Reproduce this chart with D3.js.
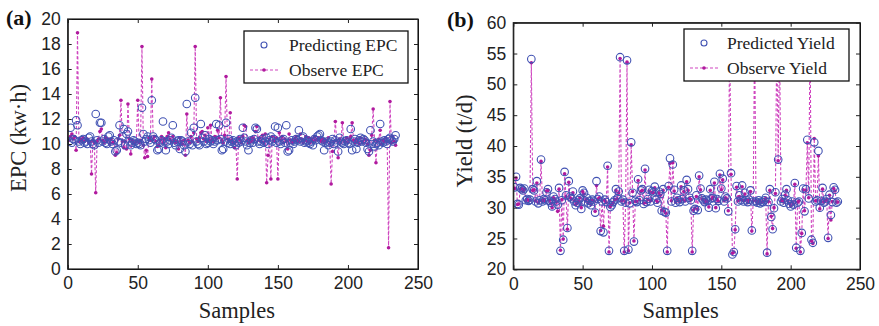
<!DOCTYPE html>
<html>
<head>
<meta charset="utf-8">
<script src="https://cdnjs.cloudflare.com/ajax/libs/d3/7.8.5/d3.min.js"></script>
<style>
  body { margin: 0; background: #fff; }
  svg { display: block; }
</style>
</head>
<body>
<div id="vis"></div>
<script>
// samples 1..234
var epcPredicted = [
  10.2, 11.3, 10.1, 10.4, 10.3, 11.9, 11.5, 10.2, 10.0, 10.3,
  10.4, 10.1, 10.2, 10.0, 10.5, 10.6, 10.2, 10.0, 9.9, 12.4,
  10.3, 10.1, 11.7, 11.7, 10.2, 10.4, 10.1, 10.0, 10.6, 10.7,
  10.2, 10.0, 10.3, 9.4, 9.5, 10.2, 11.5, 10.1, 10.6, 11.2,
  9.9, 10.8, 11.0, 10.2, 9.9, 10.1, 10.3, 10.2, 10.0, 10.1,
  10.0, 9.9, 12.9, 10.8, 10.2, 10.4, 10.6, 10.3, 10.1, 13.5,
  10.6, 10.4, 10.3, 9.5, 9.6, 10.1, 10.3, 11.8, 10.2, 9.5,
  10.2, 10.0, 10.3, 10.5, 11.5, 10.1, 9.9, 10.2, 10.3, 9.6,
  10.3, 10.2, 9.9, 9.4, 13.2, 10.2, 10.0, 10.9, 9.9, 11.3,
  13.7, 10.2, 10.0, 9.9, 11.6, 10.5, 10.2, 10.7, 10.0, 10.1,
  10.4, 10.2, 10.3, 10.0, 10.2, 11.6, 10.3, 11.5, 10.4, 9.5,
  9.6, 10.2, 11.7, 10.1, 10.4, 10.0, 10.2, 10.3, 10.1, 9.9,
  10.2, 10.1, 10.4, 10.2, 11.3, 10.5, 10.2, 9.9, 9.5, 10.1,
  10.3, 10.1, 10.4, 11.3, 11.2, 10.2, 10.0, 10.2, 10.4, 10.1,
  10.2, 10.5, 10.0, 10.3, 10.6, 10.2, 10.4, 11.4, 10.1, 11.3,
  10.2, 10.0, 10.3, 10.4, 10.1, 11.5, 9.4, 9.5, 10.1, 10.3,
  10.0, 10.2, 10.4, 10.3, 11.1, 10.2, 10.5, 10.6, 10.1, 10.2,
  10.3, 10.1, 10.0, 10.2, 9.9, 10.4, 10.3, 10.6, 10.7, 10.8,
  10.3, 10.2, 9.5, 10.1, 10.2, 9.9, 10.1, 10.2, 10.4, 10.0,
  10.3, 10.1, 9.4, 10.5, 10.2, 10.1, 10.0, 10.2, 10.3, 10.1,
  10.0, 11.2, 9.5, 10.2, 10.4, 9.6, 10.1, 10.3, 10.5, 10.2,
  10.4, 10.3, 10.1, 9.6, 9.4, 11.1, 10.0, 10.2, 9.8, 10.0,
  10.1, 9.9, 11.6, 10.2, 10.1, 10.3, 10.2, 10.0, 10.4, 10.5,
  10.3, 10.2, 10.4, 10.7
];
var epcObserved = [
  10.3, 10.6, 10.8, 10.4, 10.6, 9.5, 18.9, 10.2, 10.4, 10.3,
  10.5, 10.2, 10.3, 10.4, 10.1, 10.2, 7.6, 10.3, 10.1, 6.1,
  10.2, 10.4, 11.0, 11.2, 10.3, 10.1, 10.5, 10.2, 10.4, 10.0,
  10.4, 10.1, 10.2, 9.1, 9.3, 10.4, 10.7, 13.5, 10.2, 9.7,
  10.2, 9.6, 13.2, 10.4, 9.2, 10.3, 10.1, 10.0, 10.2, 13.5,
  10.1, 10.3, 17.8, 9.9, 8.9, 9.5, 9.0, 10.5, 10.3, 15.2,
  10.4, 10.6, 10.2, 9.8, 9.9, 10.3, 10.6, 10.1, 10.4, 9.7,
  10.6, 10.9, 10.4, 10.2, 10.6, 10.3, 10.1, 10.2, 9.6, 10.5,
  10.2, 10.0, 10.3, 9.1, 12.4, 10.3, 10.1, 10.6, 10.2, 10.9,
  17.8, 10.4, 10.2, 10.5, 10.9, 11.0, 10.4, 10.7, 10.2, 11.3,
  10.3, 11.5, 10.4, 10.2, 10.6, 10.4, 11.1, 10.5, 13.7, 10.3,
  10.1, 10.7, 15.4, 10.4, 10.2, 12.5, 10.3, 10.1, 9.7, 10.2,
  7.2, 10.5, 10.3, 10.1, 10.6, 11.5, 11.4, 10.3, 10.1, 10.4,
  10.2, 10.5, 10.3, 11.0, 11.4, 10.3, 10.5, 10.2, 10.7, 10.1,
  10.8, 6.9, 9.1, 10.4, 7.2, 10.6, 10.3, 10.2, 10.5, 7.2,
  10.9, 10.3, 10.6, 10.1, 10.4, 10.2, 9.6, 10.8, 10.3, 10.1,
  10.2, 10.4, 10.6, 10.3, 10.2, 10.8, 10.4, 10.1, 10.3, 10.6,
  10.2, 10.5, 10.1, 10.4, 10.2, 10.6, 10.3, 10.4, 10.5, 10.3,
  10.2, 10.4, 10.1, 10.3, 10.2, 10.5, 10.0, 6.8, 9.4, 10.2,
  11.8, 10.3, 8.9, 10.4, 10.1, 11.7, 10.3, 10.2, 10.5, 10.1,
  10.4, 10.6, 11.7, 10.3, 10.1, 10.4, 10.2, 10.0, 10.5, 10.2,
  10.1, 10.4, 10.3, 10.0, 9.1, 9.5, 10.7, 12.8, 10.3, 8.5,
  10.2, 10.4, 11.1, 10.0, 10.3, 10.2, 10.5, 10.2, 1.7, 13.4,
  10.1, 10.6, 10.2, 9.9
];
var yieldPredicted = [
  33.3, 35.0, 30.6, 30.5, 33.2, 33.0, 32.8, 33.1, 31.2, 31.4,
  31.1, 31.3, 54.1, 33.0, 32.8, 31.0, 34.3, 30.7, 31.2, 37.8,
  31.0, 31.4, 31.2, 32.5, 33.0, 31.1, 30.8, 30.2, 31.8, 31.4,
  31.0, 30.5, 33.2, 23.0, 31.2, 24.8, 35.8, 32.0, 26.7, 34.3,
  31.8, 31.5, 32.6, 31.0, 30.4, 30.8, 31.2, 31.5, 29.8, 32.8,
  32.4, 31.0, 31.6, 30.7, 31.1, 30.4, 31.3, 31.0, 29.2, 34.3,
  31.4, 31.8, 26.2, 31.0, 26.0, 31.3, 30.9, 36.8, 23.0, 30.1,
  30.4, 30.9, 31.2, 33.0, 31.5, 32.6, 54.4, 31.0, 31.3, 23.0,
  30.8, 53.9, 23.2, 30.7, 40.6, 32.4, 24.5, 31.1, 30.9, 34.6,
  31.2, 32.8, 33.0, 30.6, 36.3, 30.9, 31.4, 32.9, 31.0, 32.7,
  32.5, 33.4, 31.3, 30.8, 32.6, 32.2, 29.5, 33.0, 29.3, 29.2,
  23.0, 33.5, 38.0, 31.0, 37.0, 32.9, 30.8, 31.6, 31.2, 30.9,
  33.6, 31.4, 32.8, 31.0, 34.5, 33.0, 31.6, 31.2, 23.0, 29.5,
  29.8, 32.0, 29.6, 35.2, 33.1, 31.5, 31.2, 30.9, 31.3, 31.1,
  30.0, 33.0, 31.5, 31.6, 34.2, 29.9, 31.4, 31.1, 35.5, 33.1,
  34.7, 31.0, 31.8, 31.5, 29.4, 56.5, 35.6, 22.4, 22.8, 26.5,
  33.5, 31.0, 32.0, 31.2, 33.6, 31.0, 32.4, 31.2, 30.9, 31.3,
  32.8, 26.3, 31.0, 56.0, 31.0, 30.8, 31.2, 30.7, 31.0, 30.9,
  31.2, 31.6, 22.7, 30.9, 33.0, 28.5, 26.5, 29.9, 32.5, 57.0,
  37.8, 56.5, 31.0, 31.4, 30.8, 32.1, 33.0, 31.2, 30.6, 30.2,
  31.0, 30.5, 34.0, 23.5, 30.8, 31.0, 23.0, 25.9, 33.1, 29.4,
  33.0, 41.0, 31.5, 56.0, 24.8, 24.3, 40.6, 31.0, 31.2, 39.2,
  30.0, 31.1, 33.2, 30.8, 31.0, 31.4, 25.1, 32.1, 28.8, 30.9,
  33.3, 32.9, 30.8, 31.0
];
var yieldObserved = [
  33.1, 34.8, 30.5, 30.6, 33.0, 33.1, 32.6, 33.0, 31.1, 31.3,
  31.2, 31.2, 53.5, 32.8, 32.9, 31.1, 34.0, 30.8, 31.1, 37.5,
  31.1, 31.3, 31.0, 32.7, 32.8, 31.2, 30.7, 30.0, 31.6, 31.3,
  30.9, 29.4, 33.0, 23.1, 31.3, 24.9, 35.5, 31.8, 26.5, 34.1,
  31.6, 31.4, 32.4, 31.1, 30.5, 30.7, 31.0, 31.6, 30.0, 32.6,
  32.2, 31.1, 31.4, 30.8, 31.0, 30.5, 31.2, 31.1, 29.4, 33.6,
  31.3, 31.6, 26.3, 31.1, 27.0, 31.2, 30.8, 36.6, 22.8, 30.2,
  30.5, 30.8, 31.3, 32.8, 31.4, 32.4, 54.2, 31.1, 31.2, 22.8,
  30.9, 53.6, 23.0, 30.8, 40.2, 32.6, 24.6, 31.0, 31.0, 34.4,
  31.3, 32.6, 32.8, 30.7, 36.1, 30.8, 31.3, 32.7, 31.1, 32.5,
  32.4, 33.2, 31.2, 30.9, 32.4, 32.0, 29.6, 32.8, 29.4, 29.1,
  22.8, 33.3, 37.2, 31.1, 37.3, 32.7, 30.9, 31.5, 31.1, 31.0,
  33.4, 31.3, 32.6, 31.1, 34.2, 32.8, 31.5, 31.3, 22.8, 29.6,
  29.9, 31.8, 29.7, 35.0, 32.9, 31.4, 31.3, 30.8, 31.2, 31.0,
  30.1, 32.8, 31.4, 31.7, 34.0, 30.0, 31.3, 31.0, 35.3, 32.9,
  34.5, 31.1, 31.6, 31.4, 29.5, 58.0, 35.4, 22.6, 22.8, 26.4,
  33.3, 31.1, 31.8, 31.3, 33.4, 31.1, 32.2, 31.3, 30.8, 31.2,
  32.6, 26.2, 31.1, 58.0, 31.1, 30.7, 31.1, 30.8, 30.9, 31.0,
  31.1, 31.5, 22.5, 31.0, 32.8, 28.6, 26.6, 30.0, 32.3, 58.0,
  37.6, 58.0, 31.1, 31.3, 30.9, 32.0, 32.8, 31.1, 30.7, 30.3,
  30.9, 30.6, 33.8, 23.4, 30.9, 31.1, 22.8, 25.8, 32.9, 29.5,
  32.8, 40.5, 31.6, 58.0, 24.6, 24.2, 41.2, 31.1, 31.1, 38.4,
  29.8, 31.0, 33.0, 30.9, 31.1, 31.3, 25.0, 32.0, 28.0, 31.0,
  33.1, 32.7, 30.9, 30.9
];

var xTicks = [0, 50, 100, 150, 200, 250];
var epcTicks = [0, 2, 4, 6, 8, 10, 12, 14, 16, 18, 20];
var yieldTicks = [20, 25, 30, 35, 40, 45, 50, 55, 60];

var width = 879, height = 326;
var blue = '#4152b3';
var magenta = '#b01a9e';
var lineCol = '#cf46bf';
var serif = '"Liberation Serif", "Times New Roman", serif';
var sans = '"Liberation Sans", Arial, Helvetica, sans-serif';

var svg = d3.select('#vis').append('svg')
    .attr('width', width)
    .attr('height', height);

function drawPanel(cfg) {
  var x = d3.scaleLinear().domain([0, 250]).range([cfg.left, cfg.right]);
  var y = d3.scaleLinear().domain(cfg.yDomain).range([cfg.bottom, cfg.top]);
  var g = svg.append('g');

  var clipId = 'clip-' + cfg.id;
  g.append('clipPath').attr('id', clipId)
    .append('rect')
      .attr('x', cfg.left).attr('y', cfg.top)
      .attr('width', cfg.right - cfg.left)
      .attr('height', cfg.bottom - cfg.top);

  var obs = cfg.observed.map(function (v, i) { return { i: i + 1, v: v }; });
  var pred = cfg.predicted.map(function (v, i) { return { i: i + 1, v: v }; });

  var plot = g.append('g').attr('clip-path', 'url(#' + clipId + ')');

  var line = d3.line()
      .x(function (d) { return x(d.i); })
      .y(function (d) { return y(d.v); });

  plot.append('path')
      .datum(obs)
      .attr('d', line)
      .attr('fill', 'none')
      .attr('stroke', lineCol)
      .attr('stroke-width', 1.1)
      .attr('stroke-dasharray', '3,2');

  plot.selectAll('.obs').data(obs).enter().append('circle')
      .attr('class', 'obs')
      .attr('cx', function (d) { return x(d.i); })
      .attr('cy', function (d) { return y(d.v); })
      .attr('r', 1.8)
      .attr('fill', magenta);

  plot.selectAll('.pred').data(pred).enter().append('circle')
      .attr('class', 'pred')
      .attr('cx', function (d) { return x(d.i); })
      .attr('cy', function (d) { return y(d.v); })
      .attr('r', 3.8)
      .attr('fill', 'none')
      .attr('stroke', blue)
      .attr('stroke-width', 1.1);

  // axes, ticks inward on all sides
  var axB = d3.axisBottom(x).tickValues(xTicks).tickSizeInner(-4).tickSizeOuter(0).tickPadding(8);
  var axT = d3.axisTop(x).tickValues(xTicks).tickSizeInner(-4).tickSizeOuter(0).tickFormat('');
  var axL = d3.axisLeft(y).tickValues(cfg.yTicks).tickSizeInner(-4).tickSizeOuter(0).tickPadding(7);
  var axR = d3.axisRight(y).tickValues(cfg.yTicks).tickSizeInner(-4).tickSizeOuter(0).tickFormat('');

  [[axB, 'translate(0,' + cfg.bottom + ')'], [axT, 'translate(0,' + cfg.top + ')'],
   [axL, 'translate(' + cfg.left + ',0)'], [axR, 'translate(' + cfg.right + ',0)']]
    .forEach(function (a) {
      var ax = g.append('g').attr('transform', a[1]).call(a[0]);
      ax.selectAll('text').attr('font-family', sans).attr('font-size', 17.5).attr('fill', '#222');
      ax.selectAll('line').attr('stroke', '#222');
    });

  g.append('rect')
      .attr('x', cfg.left).attr('y', cfg.top)
      .attr('width', cfg.right - cfg.left)
      .attr('height', cfg.bottom - cfg.top)
      .attr('fill', 'none')
      .attr('stroke', '#222')
      .attr('stroke-width', 1.2);

  // legend
  var lg = cfg.legend;
  g.append('rect')
      .attr('x', lg.x).attr('y', lg.y)
      .attr('width', lg.w).attr('height', lg.h)
      .attr('fill', '#fff')
      .attr('stroke', '#111')
      .attr('stroke-width', 1.3);
  g.append('circle')
      .attr('cx', lg.x + 20).attr('cy', lg.y + 14)
      .attr('r', 3)
      .attr('fill', 'none').attr('stroke', blue).attr('stroke-width', 1.1);
  g.append('line')
      .attr('x1', lg.x + 6).attr('x2', lg.x + 34)
      .attr('y1', lg.y + 39).attr('y2', lg.y + 39)
      .attr('stroke', lineCol).attr('stroke-width', 1.2)
      .attr('stroke-dasharray', '3,2');
  g.append('circle')
      .attr('cx', lg.x + 20).attr('cy', lg.y + 39)
      .attr('r', 1.8).attr('fill', magenta);
  g.append('text')
      .attr('x', lg.x + lg.tx).attr('y', lg.y + 20)
      .attr('font-family', serif).attr('font-size', 17.5).attr('fill', '#222')
      .text(cfg.names[0]);
  g.append('text')
      .attr('x', lg.x + lg.tx).attr('y', lg.y + 45)
      .attr('font-family', serif).attr('font-size', 17.5).attr('fill', '#222')
      .text(cfg.names[1]);

  // labels
  g.append('text')
      .attr('x', (cfg.left + cfg.right) / 2 - 6).attr('y', 318)
      .attr('text-anchor', 'middle')
      .attr('font-family', serif).attr('font-size', 22.5).attr('fill', '#222')
      .text('Samples');
  g.append('text')
      .attr('transform', 'translate(' + cfg.yLabelX + ',' + cfg.yLabelY + ') rotate(-90)')
      .attr('text-anchor', 'middle')
      .attr('font-family', serif).attr('font-size', 22.5).attr('fill', '#222')
      .text(cfg.yLabel);
  g.append('text')
      .attr('x', cfg.tagX).attr('y', cfg.tagY)
      .attr('font-family', serif).attr('font-size', 22).attr('font-weight', 'bold').attr('fill', '#111')
      .text(cfg.tag);
}

drawPanel({
  id: 'a', left: 67.7, right: 418, top: 19, bottom: 269,
  yDomain: [0, 20], yTicks: epcTicks,
  predicted: epcPredicted, observed: epcObserved,
  names: ['Predicting EPC', 'Observe EPC'],
  legend: { x: 244, y: 31, w: 164, h: 52, tx: 45 },
  yLabel: 'EPC (kw\u00b7h)', yLabelX: 26, yLabelY: 138,
  tag: '(a)', tagX: 6, tagY: 25
});

drawPanel({
  id: 'b', left: 513.3, right: 860, top: 22.7, bottom: 269.3,
  yDomain: [20, 60], yTicks: yieldTicks,
  predicted: yieldPredicted, observed: yieldObserved,
  names: ['Predicted Yield', 'Observe Yield'],
  legend: { x: 684, y: 29, w: 165, h: 52, tx: 43 },
  yLabel: 'Yield (t/d)', yLabelX: 472, yLabelY: 141,
  tag: '(b)', tagX: 447, tagY: 27
});
</script>
</body>
</html>
